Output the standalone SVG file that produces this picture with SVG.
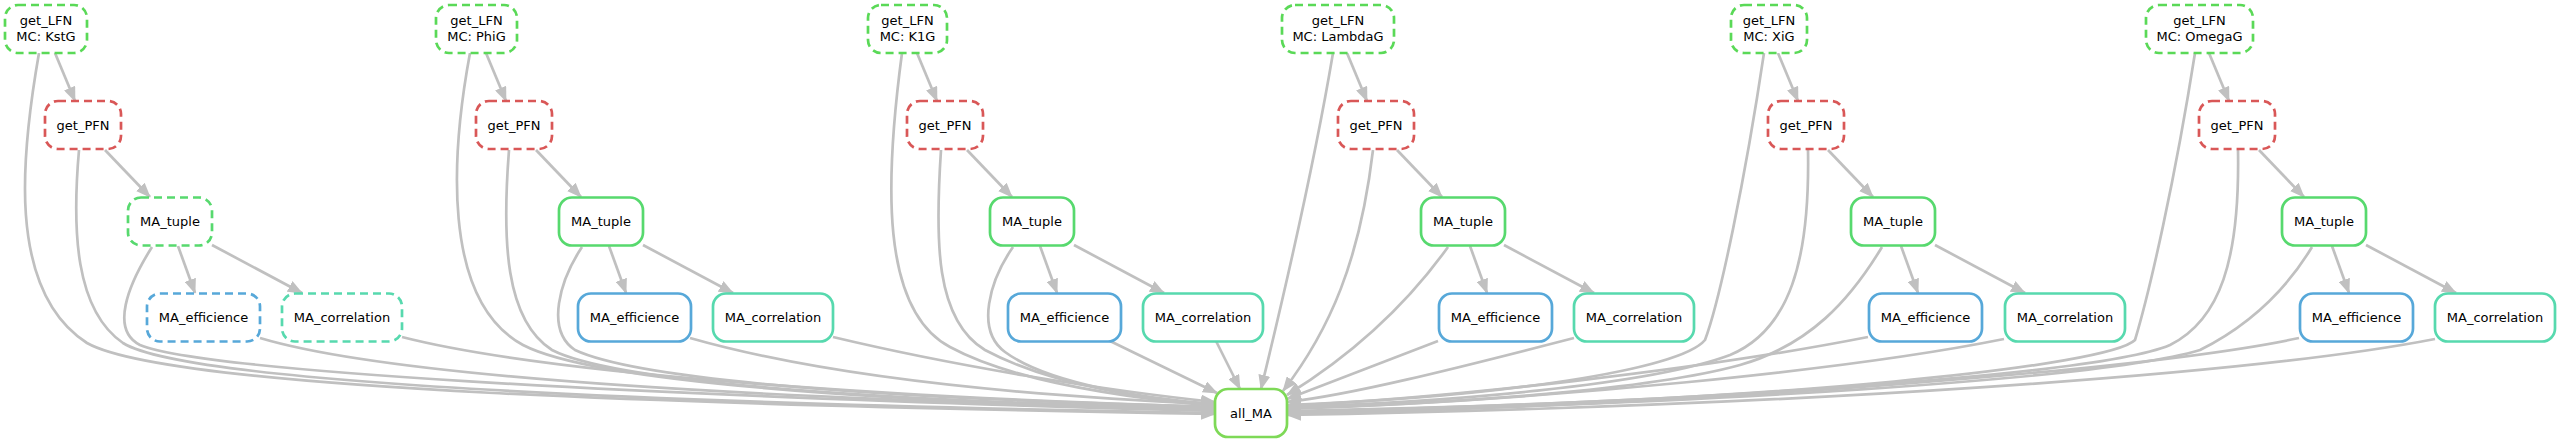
<svg xmlns="http://www.w3.org/2000/svg" width="2560" height="443" viewBox="0 0 2560 443">
<style>
.n rect{fill:#fff;stroke-width:2.7}
.d rect{stroke-dasharray:8,5}
.lfn rect{stroke:#5ad957}
.pfn rect{stroke:#d95757}
.tup rect{stroke:#57d96e}
.eff rect{stroke:#57a8d9}
.cor rect{stroke:#57d9ae}
.all rect{stroke:#7ed957}
text{font-family:"DejaVu Sans","Liberation Sans",sans-serif;font-size:13px;text-anchor:middle;fill:#000}
#edges path{fill:none;stroke:#c0c0c0;stroke-width:2.7;marker-end:url(#arr)}
</style>
<defs>
<marker id="arr" markerUnits="userSpaceOnUse" markerWidth="15" markerHeight="12" viewBox="0 0 15 12" refX="14" refY="6" orient="auto">
<path d="M0,0 L15,6 L0,12 Z" fill="#c0c0c0"/>
</marker>
</defs>
<rect width="2560" height="443" fill="#fff"/>
<g id="edges">
<!-- KstG column -->
<path d="M55,53 L75,101"/>
<path d="M105,150 L150,197"/>
<path d="M178,246 L195,293"/>
<path d="M212,245 L302,293"/>
<path d="M39,53 C22,150 5,290 87,343 C170,390 700,405 1215,414"/>
<path d="M79,150 C72,230 75,310 123,343 C190,385 700,404 1215,413"/>
<path d="M152,247 C128,285 110,330 140,345 C200,370 600,395 1215,411"/>
<path d="M260,338 C400,380 800,400 1215,409"/>
<path d="M402,337 C550,375 900,398 1215,407"/>
<!-- PhiG column -->
<path d="M486,53 L506,101"/>
<path d="M536,150 L581,197"/>
<path d="M609,246 L626,293"/>
<path d="M643,245 L733,293"/>
<path d="M470,53 C452,150 440,300 523,345 C600,385 900,402 1215,410"/>
<path d="M509,150 C502,240 505,320 552,350 C620,385 900,401 1215,409"/>
<path d="M582,247 C560,280 545,330 575,350 C650,385 950,400 1215,407"/>
<path d="M690,338 C820,375 1000,395 1215,404"/>
<path d="M833,337 C950,365 1100,390 1215,402"/>
<!-- K1G column -->
<path d="M917,53 L937,101"/>
<path d="M967,150 L1012,197"/>
<path d="M1040,246 L1057,293"/>
<path d="M1074,245 L1164,293"/>
<path d="M902,53 C885,180 880,310 950,347 C1020,385 1150,400 1215,406"/>
<path d="M941,150 C935,240 935,320 985,350 C1050,385 1150,400 1215,405"/>
<path d="M1013,247 C990,280 975,330 1005,352 C1050,385 1150,399 1215,404"/>
<path d="M1110,341 L1217,393"/>
<path d="M1216,341 L1240,389"/>
<!-- LambdaG column -->
<path d="M1347,53 L1367,101"/>
<path d="M1397,150 L1442,197"/>
<path d="M1470,246 L1487,293"/>
<path d="M1504,245 L1594,293"/>
<path d="M1333,53 C1315,160 1290,270 1261,389"/>
<path d="M1373,150 C1360,260 1330,330 1283,391"/>
<path d="M1448,247 C1410,300 1360,350 1287,395"/>
<path d="M1438,341 L1287,399"/>
<path d="M1574,338 C1450,370 1350,395 1287,402"/>
<!-- XiG column -->
<path d="M1778,53 L1798,101"/>
<path d="M1828,150 L1873,197"/>
<path d="M1901,246 L1918,293"/>
<path d="M1935,245 L2025,293"/>
<path d="M1764,53 C1745,180 1720,300 1705,340 C1680,370 1500,397 1287,405"/>
<path d="M1808,150 C1810,260 1790,330 1730,355 C1650,385 1450,402 1287,407"/>
<path d="M1882,247 C1850,300 1810,345 1740,365 C1650,390 1450,404 1287,408"/>
<path d="M1868,337 C1700,370 1450,398 1287,406"/>
<path d="M2004,339 C1850,370 1550,400 1287,409"/>
<!-- OmegaG column -->
<path d="M2209,53 L2229,101"/>
<path d="M2259,150 L2304,197"/>
<path d="M2332,246 L2349,293"/>
<path d="M2366,245 L2456,293"/>
<path d="M2195,53 C2175,180 2150,290 2135,340 C2110,365 1800,402 1287,411"/>
<path d="M2238,150 C2240,260 2220,320 2170,345 C2100,375 1700,402 1287,412"/>
<path d="M2312,247 C2280,300 2240,330 2200,350 C2100,380 1700,404 1287,413"/>
<path d="M2299,338 C2150,370 1700,405 1287,414"/>
<path d="M2435,339 C2250,375 1800,406 1287,415"/>
</g>
<!-- KstG -->
<g id="lfn_kstg" class="n d lfn"><rect x="5" y="5" width="82" height="48" rx="13"/><text x="46" y="25">get_LFN</text><text x="46" y="40.5">MC: KstG</text></g>
<g id="pfn_kstg" class="n d pfn"><rect x="45" y="101" width="76" height="48" rx="13"/><text x="83" y="129.5">get_PFN</text></g>
<g id="tup_kstg" class="n d tup"><rect x="128" y="197.5" width="84" height="48" rx="13"/><text x="170" y="226">MA_tuple</text></g>
<g id="eff_kstg" class="n d eff"><rect x="147" y="293.5" width="113" height="48" rx="13"/><text x="203.5" y="322">MA_efficience</text></g>
<g id="cor_kstg" class="n d cor"><rect x="282" y="293.5" width="120" height="48" rx="13"/><text x="342" y="322">MA_correlation</text></g>
<!-- PhiG -->
<g id="lfn_phig" class="n d lfn"><rect x="436" y="5" width="81" height="48" rx="13"/><text x="476.5" y="25">get_LFN</text><text x="476.5" y="40.5">MC: PhiG</text></g>
<g id="pfn_phig" class="n d pfn"><rect x="476" y="101" width="76" height="48" rx="13"/><text x="514" y="129.5">get_PFN</text></g>
<g id="tup_phig" class="n tup"><rect x="559" y="197.5" width="84" height="48" rx="13"/><text x="601" y="226">MA_tuple</text></g>
<g id="eff_phig" class="n eff"><rect x="578" y="293.5" width="113" height="48" rx="13"/><text x="634.5" y="322">MA_efficience</text></g>
<g id="cor_phig" class="n cor"><rect x="713" y="293.5" width="120" height="48" rx="13"/><text x="773" y="322">MA_correlation</text></g>
<!-- K1G -->
<g id="lfn_k1g" class="n d lfn"><rect x="868" y="5" width="79" height="48" rx="13"/><text x="907.5" y="25">get_LFN</text><text x="907.5" y="40.5">MC: K1G</text></g>
<g id="pfn_k1g" class="n d pfn"><rect x="907" y="101" width="76" height="48" rx="13"/><text x="945" y="129.5">get_PFN</text></g>
<g id="tup_k1g" class="n tup"><rect x="990" y="197.5" width="84" height="48" rx="13"/><text x="1032" y="226">MA_tuple</text></g>
<g id="eff_k1g" class="n eff"><rect x="1008" y="293.5" width="113" height="48" rx="13"/><text x="1064.5" y="322">MA_efficience</text></g>
<g id="cor_k1g" class="n cor"><rect x="1143" y="293.5" width="120" height="48" rx="13"/><text x="1203" y="322">MA_correlation</text></g>
<!-- LambdaG -->
<g id="lfn_lambdag" class="n d lfn"><rect x="1282" y="5" width="112" height="48" rx="13"/><text x="1338" y="25">get_LFN</text><text x="1338" y="40.5">MC: LambdaG</text></g>
<g id="pfn_lambdag" class="n d pfn"><rect x="1338" y="101" width="76" height="48" rx="13"/><text x="1376" y="129.5">get_PFN</text></g>
<g id="tup_lambdag" class="n tup"><rect x="1421" y="197.5" width="84" height="48" rx="13"/><text x="1463" y="226">MA_tuple</text></g>
<g id="eff_lambdag" class="n eff"><rect x="1439" y="293.5" width="113" height="48" rx="13"/><text x="1495.5" y="322">MA_efficience</text></g>
<g id="cor_lambdag" class="n cor"><rect x="1574" y="293.5" width="120" height="48" rx="13"/><text x="1634" y="322">MA_correlation</text></g>
<!-- XiG -->
<g id="lfn_xig" class="n d lfn"><rect x="1731" y="5" width="76" height="48" rx="13"/><text x="1769" y="25">get_LFN</text><text x="1769" y="40.5">MC: XiG</text></g>
<g id="pfn_xig" class="n d pfn"><rect x="1768" y="101" width="76" height="48" rx="13"/><text x="1806" y="129.5">get_PFN</text></g>
<g id="tup_xig" class="n tup"><rect x="1851" y="197.5" width="84" height="48" rx="13"/><text x="1893" y="226">MA_tuple</text></g>
<g id="eff_xig" class="n eff"><rect x="1869" y="293.5" width="113" height="48" rx="13"/><text x="1925.5" y="322">MA_efficience</text></g>
<g id="cor_xig" class="n cor"><rect x="2005" y="293.5" width="120" height="48" rx="13"/><text x="2065" y="322">MA_correlation</text></g>
<!-- OmegaG -->
<g id="lfn_omegag" class="n d lfn"><rect x="2146" y="5" width="107" height="48" rx="13"/><text x="2199.5" y="25">get_LFN</text><text x="2199.5" y="40.5">MC: OmegaG</text></g>
<g id="pfn_omegag" class="n d pfn"><rect x="2199" y="101" width="76" height="48" rx="13"/><text x="2237" y="129.5">get_PFN</text></g>
<g id="tup_omegag" class="n tup"><rect x="2282" y="197.5" width="84" height="48" rx="13"/><text x="2324" y="226">MA_tuple</text></g>
<g id="eff_omegag" class="n eff"><rect x="2300" y="293.5" width="113" height="48" rx="13"/><text x="2356.5" y="322">MA_efficience</text></g>
<g id="cor_omegag" class="n cor"><rect x="2435" y="293.5" width="120" height="48" rx="13"/><text x="2495" y="322">MA_correlation</text></g>
<!-- all_MA -->
<g id="all_ma" class="n all"><rect x="1215" y="389" width="72" height="48" rx="13"/><text x="1251" y="417.5">all_MA</text></g>
</svg>
